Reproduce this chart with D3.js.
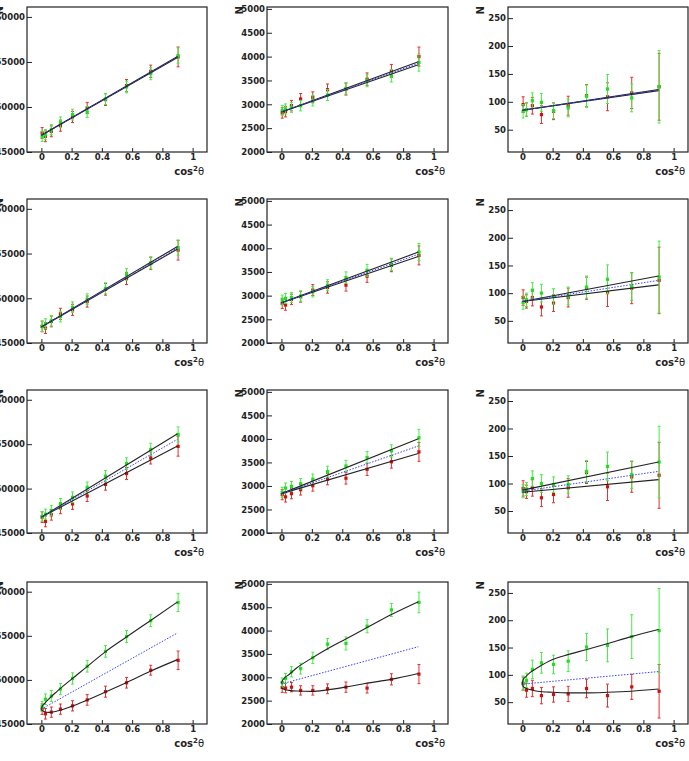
<!DOCTYPE html>
<html><head><meta charset="utf-8">
<script src="https://cdn.jsdelivr.net/npm/d3@7"></script>
<style>body{margin:0;background:#fff}svg{display:block}</style>
</head><body>
<script>
// ---------- shared axes data ----------
const xPoints = [0.005,0.027,0.066,0.126,0.206,0.303,0.424,0.563,0.723,0.904];
const lineX = [0, 0.9];
const curveX = [0,0.005,0.02,0.05,0.1,0.2,0.3,0.42,0.56,0.72,0.9];
const xTicks = [0,0.2,0.4,0.6,0.8,1];
const xTickLabels = ["0","0.2","0.4","0.6","0.8","1"];
const yTicksC1 = [45000,50000,55000,60000];
const yTicksC2 = [2000,2500,3000,3500,4000,4500,5000];
const yTicksC3 = [50,100,150,200,250];
const yDomainC1 = [45000,61100];
const yDomainC2 = [2000,5040];
const yDomainC3 = [10,270];

// ---------- column 1 ----------
const errC1Red   = [600,600,600,620,620,620,650,680,680,1100];
const errC1Green = [560,560,580,600,600,600,620,650,680,850];
const p11Red   = [47111,46741,47296,47926,48889,49889,50815,52370,53963,55556];
const p11Green = [46741,46926,47481,48296,49148,49444,50889,52222,53704,55704];
const p11FitRed = [46850,55500], p11FitGreen = [46850,55600], p11Avg = [46850,55550];
const p21Red   = [46852,46667,47407,48259,48704,49630,51000,52222,53889,55370];
const p21Green = [46852,47148,47481,47963,49000,49889,51111,52667,53963,55667];
const p21FitRed = [46800,55500], p21FitGreen = [46800,55800], p21Avg = [46800,55650];
const p31Red   = [46786,46303,47047,47791,48275,49168,50471,51699,53448,54751];
const p31Green = [46861,47121,47531,48275,49019,50136,51401,52815,54416,56090];
const p31FitRed = [46786,54788], p31FitGreen = [46786,56165], p31Avg = [46786,55550];
const p41Red   = [46683,46160,46347,46683,47058,47731,48666,49676,51098,52220];
const p41Green = [46983,47806,48180,48966,50163,51547,53230,54914,56710,58767];
const p41ErrRed   = [600,600,580,580,580,600,620,600,560,1050];
const p41ErrGreen = [560,600,620,640,640,660,660,680,670,1010];
const p41FitRed   = [46683,46550,46400,46320,46450,47000,47700,48600,49680,50980,52300];
const p41FitGreen = [46683,46980,47300,47850,48650,50088,51472,53156,54839,56710,58842];
const p41Avg = [46683,55325];

// ---------- column 2 ----------
const errC2Red   = [110,110,110,115,115,120,125,130,135,200];
const errC2Green = [105,105,105,110,110,115,120,125,130,180];
const p12Red   = [2819,2847,2972,3111,3146,3306,3319,3528,3701,4000];
const p12Green = [2868,2903,2937,2972,3076,3194,3333,3493,3597,3875];
const p12FitRed = [2840,3890], p12FitGreen = [2840,3830], p12Avg = [2840,3860];
const p22Red   = [2837,2802,2921,2977,3117,3172,3221,3410,3640,3849];
const p22Green = [2907,2942,2963,2991,3082,3221,3382,3535,3661,3919];
const p22FitRed = [2850,3828], p22FitGreen = [2850,3919], p22Avg = [2850,3873];
const p32Red   = [2816,2768,2837,2921,3005,3144,3165,3354,3514,3724];
const p32Green = [2865,2956,2991,3047,3144,3305,3424,3605,3745,4024];
const p32FitRed = [2837,3689], p32FitGreen = [2837,4003], p32Avg = [2837,3849];
const p42Red   = [2782,2768,2789,2719,2719,2754,2789,2768,2956,3068];
const p42Green = [2886,2977,3117,3186,3417,3710,3724,4094,4442,4603];
const p42ErrRed   = [105,100,100,100,100,105,110,105,120,205];
const p42ErrGreen = [100,105,110,115,120,120,140,140,140,220];
const p42FitRed   = [2789,2765,2740,2720,2705,2698,2730,2789,2872,2956,3082];
const p42FitGreen = [2872,2920,2985,3060,3200,3410,3605,3814,4059,4338,4617];
const p42Avg = [2858,3654];

// ---------- column 3 ----------
const errC3Red   = [14,12,15,16,15,17,20,25,28,60];
const errC3Green = [12,12,14,16,14,16,20,26,25,65];
const p13Red   = [95,86,93,77,83,93,111,109,116,127];
const p13Green = [83,86,102,99,84,89,110,123,107,127];
const p13FitRed = [85,120], p13FitGreen = [85,122], p13Avg = [85,121];
const p23Red   = [92,85,92,75,82,92,109,101,109,123];
const p23Green = [83,88,105,100,94,95,111,125,112,129];
const p23FitRed = [85,115], p23FitGreen = [85,131], p23Avg = [85,123];
const p33Red   = [91,85,92,74,80,92,120,94,112,115];
const p33Green = [86,90,109,100,98,98,122,131,116,139];
const p33FitRed = [84,107], p33FitGreen = [88,139], p33Avg = [86,122];
const p43Red   = [84,72,75,62,64,65,75,62,78,70];
const p43Green = [85,90,110,122,119,125,151,154,170,181];
const p43ErrRed   = [12,13,15,15,14,14,17,21,23,49];
const p43ErrGreen = [13,13,17,19,17,19,25,30,40,77];
const p43FitRed   = [85,79,76,73,70,68,67,67,68,70,74];
const p43FitGreen = [85,91,96,104,113,128,137,146,157,170,183];
const p43Avg = [83,106];

// ---------- layout ----------
const W = 689, H = 761;
const colFrames = [[27,207],[267,448],[508,688]];
const rowFrames = [[7,152],[199,343],[390,533],[582,724]];
const xDomain = [-0.095,1.095];
const yDomains = [yDomainC1, yDomainC2, yDomainC3];
const yTicksAll = [yTicksC1, yTicksC2, yTicksC3];
const FONT = "DejaVu Sans";

const panels = [
  {r:0,c:0,red:p11Red,redErr:errC1Red,green:p11Green,greenErr:errC1Green,fx:lineX,fr:p11FitRed,fg:p11FitGreen,avg:p11Avg},
  {r:0,c:1,red:p12Red,redErr:errC2Red,green:p12Green,greenErr:errC2Green,fx:lineX,fr:p12FitRed,fg:p12FitGreen,avg:p12Avg},
  {r:0,c:2,red:p13Red,redErr:errC3Red,green:p13Green,greenErr:errC3Green,fx:lineX,fr:p13FitRed,fg:p13FitGreen,avg:p13Avg},
  {r:1,c:0,red:p21Red,redErr:errC1Red,green:p21Green,greenErr:errC1Green,fx:lineX,fr:p21FitRed,fg:p21FitGreen,avg:p21Avg},
  {r:1,c:1,red:p22Red,redErr:errC2Red,green:p22Green,greenErr:errC2Green,fx:lineX,fr:p22FitRed,fg:p22FitGreen,avg:p22Avg},
  {r:1,c:2,red:p23Red,redErr:errC3Red,green:p23Green,greenErr:errC3Green,fx:lineX,fr:p23FitRed,fg:p23FitGreen,avg:p23Avg},
  {r:2,c:0,red:p31Red,redErr:errC1Red,green:p31Green,greenErr:errC1Green,fx:lineX,fr:p31FitRed,fg:p31FitGreen,avg:p31Avg},
  {r:2,c:1,red:p32Red,redErr:errC2Red,green:p32Green,greenErr:errC2Green,fx:lineX,fr:p32FitRed,fg:p32FitGreen,avg:p32Avg},
  {r:2,c:2,red:p33Red,redErr:errC3Red,green:p33Green,greenErr:errC3Green,fx:lineX,fr:p33FitRed,fg:p33FitGreen,avg:p33Avg},
  {r:3,c:0,red:p41Red,redErr:p41ErrRed,green:p41Green,greenErr:p41ErrGreen,fx:curveX,fr:p41FitRed,fg:p41FitGreen,avg:p41Avg},
  {r:3,c:1,red:p42Red,redErr:p42ErrRed,green:p42Green,greenErr:p42ErrGreen,fx:curveX,fr:p42FitRed,fg:p42FitGreen,avg:p42Avg},
  {r:3,c:2,red:p43Red,redErr:p43ErrRed,green:p43Green,greenErr:p43ErrGreen,fx:curveX,fr:p43FitRed,fg:p43FitGreen,avg:p43Avg}
];

const svg = d3.select("body").append("svg").attr("width",W).attr("height",H);
svg.append("rect").attr("width",W).attr("height",H).attr("fill","#fff");

const RED_BAR = "#e23030", RED_MK = "#cc1111";
const GREEN_BAR = "#44ee44", GREEN_MK = "#22dd22";

panels.forEach(p => {
  const [x0,x1] = colFrames[p.c], [y0,y1] = rowFrames[p.r];
  const x = d3.scaleLinear().domain(xDomain).range([x0,x1]);
  const y = d3.scaleLinear().domain(yDomains[p.c]).range([y1,y0]);
  const g = svg.append("g");

  // axes
  const gx = g.append("g").attr("transform",`translate(0,${y1})`)
    .call(d3.axisBottom(x).tickValues(xTicks).tickFormat((d,i)=>xTickLabels[i]).tickSize(-4).tickPadding(1.5));
  const gy = g.append("g").attr("transform",`translate(${x0},0)`)
    .call(d3.axisLeft(y).tickValues(yTicksAll[p.c]).tickFormat(d3.format("d")).tickSize(-5).tickPadding(2));
  [gx,gy].forEach(a => {
    a.select(".domain").remove();
    a.attr("font-family",FONT).attr("font-size",8.5).attr("font-weight","bold");
    a.selectAll("text").attr("fill","#222");
    a.selectAll("line").attr("stroke","#222");
  });

  // frame
  g.append("rect").attr("x",x0).attr("y",y0).attr("width",x1-x0).attr("height",y1-y0)
    .attr("fill","none").attr("stroke","#222").attr("stroke-width",1.2);

  // axis titles
  const t = g.append("text").attr("x",x1-3).attr("y",y1+23).attr("text-anchor","end")
    .attr("font-family",FONT).attr("font-weight","bold").attr("font-size",10).attr("fill","#222");
  t.append("tspan").text("cos");
  t.append("tspan").attr("dy",-4).attr("font-size",7).text("2");
  t.append("tspan").attr("dy",4).attr("font-weight","normal").text("θ");
  g.append("text").attr("transform",`translate(${x0-24},${y0-1}) rotate(-90)`)
    .attr("text-anchor","end").attr("font-family",FONT).attr("font-weight","bold")
    .attr("font-size",10).attr("fill","#222").text("N");

  // data points with error bars
  const series = [
    {v:p.red, e:p.redErr, bar:RED_BAR, mk:RED_MK},
    {v:p.green, e:p.greenErr, bar:GREEN_BAR, mk:GREEN_MK}
  ];
  series.forEach(s => {
    const pts = xPoints.map((xv,i)=>({x:xv, v:s.v[i], e:s.e[i]}));
    const eg = g.append("g").attr("stroke",s.bar).attr("stroke-width",1);
    eg.selectAll("line.v").data(pts).join("line").attr("class","v")
      .attr("x1",d=>x(d.x)).attr("x2",d=>x(d.x)).attr("y1",d=>y(d.v-d.e)).attr("y2",d=>y(d.v+d.e));
    eg.selectAll("line.t").data(pts).join("line").attr("class","t")
      .attr("x1",d=>x(d.x)-1.5).attr("x2",d=>x(d.x)+1.5).attr("y1",d=>y(d.v+d.e)).attr("y2",d=>y(d.v+d.e));
    eg.selectAll("line.b").data(pts).join("line").attr("class","b")
      .attr("x1",d=>x(d.x)-1.5).attr("x2",d=>x(d.x)+1.5).attr("y1",d=>y(d.v-d.e)).attr("y2",d=>y(d.v-d.e));
    g.append("g").selectAll("rect").data(pts).join("rect")
      .attr("x",d=>x(d.x)-1.6).attr("y",d=>y(d.v)-1.6).attr("width",3.2).attr("height",3.2)
      .attr("fill",s.mk);
  });

  // fit lines
  const curve = p.fx.length > 2 ? d3.curveMonotoneX : d3.curveLinear;
  const line = d3.line().x(d=>x(d[0])).y(d=>y(d[1])).curve(curve);
  [p.fr, p.fg].forEach(vals => {
    g.append("path").attr("d", line(p.fx.map((xv,i)=>[xv, vals[i]])))
      .attr("fill","none").attr("stroke","#222").attr("stroke-width",1.1);
  });
  const lin = d3.line().x(d=>x(d[0])).y(d=>y(d[1]));
  g.append("path").attr("d", lin(lineX.map((xv,i)=>[xv, p.avg[i]])))
    .attr("fill","none").attr("stroke","#3344ff").attr("stroke-width",1)
    .attr("stroke-dasharray","1.5,1.5");
});
</script>
</body></html>
